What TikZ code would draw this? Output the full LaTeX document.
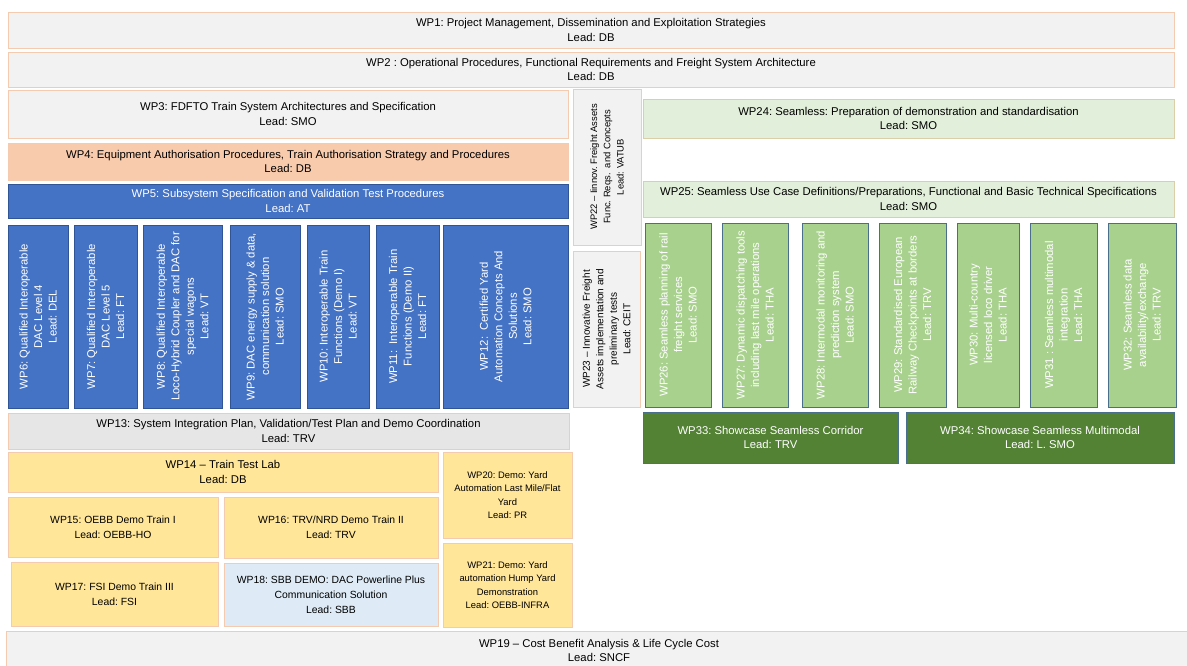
\documentclass[tikz,border=0pt]{standalone}
\usepackage{fontspec}
\setmainfont{Liberation Sans}
\definecolor{wpgrey}{HTML}{F2F2F2}
\definecolor{wpgreydark}{HTML}{E7E6E6}
\definecolor{wppeach}{HTML}{F4CBB0}
\definecolor{wporange}{HTML}{F8CBAD}
\definecolor{wpblue}{HTML}{4472C4}
\definecolor{wpblueline}{HTML}{2F5597}
\definecolor{wppalegreen}{HTML}{E2EFDA}
\definecolor{wptan}{HTML}{DCCFA8}
\definecolor{wpgreen}{HTML}{A9D18E}
\definecolor{wpdarkgreen}{HTML}{548235}
\definecolor{wpslate}{HTML}{4A6F8C}
\definecolor{wpyellow}{HTML}{FFE699}
\definecolor{wplightblue}{HTML}{DEEBF7}
\newcommand\wpfont{\fontsize{11.3}{14.5}\selectfont\frenchspacing}
\newcommand\wpsmall{\fontsize{10.4}{14.8}\selectfont\frenchspacing}
\newcommand\wpmid{\fontsize{10}{13.5}\selectfont\frenchspacing}
\newcommand\wptiny{\fontsize{9.4}{13.3}\selectfont\frenchspacing}
% box given by its corners (x1,y1) (x2,y2)
\newcommand\wpnode[7]{%
  \node[#6, minimum width={(#4)-(#2)}, minimum height={(#5)-(#3)}]
    (#1) at ({((#2)+(#4))/2},{((#3)+(#5))/2}) {#7};}
% tall box with its text turned upright
\newcommand\wpnoderot[7]{%
  \node[#6, rotate=90, minimum width={(#5)-(#3)}, minimum height={(#4)-(#2)}]
    (#1) at ({((#2)+(#4))/2},{((#3)+(#5))/2}) {#7};}
\tikzset{
  wp/.style={line width=0.8pt, inner sep=1pt, outer sep=0pt, align=center, font=\wpfont},
  greybox/.style={wp, fill=wpgrey, draw=wppeach},
  greydark/.style={wp, fill=wpgreydark, draw=wppeach},
  orangebox/.style={wp, fill=wporange, draw=wppeach},
  bluebox/.style={wp, fill=wpblue, draw=wpblueline, text=white},
  palegreen/.style={wp, fill=wppalegreen, draw=wptan},
  greenbox/.style={wp, fill=wpgreen, draw=wpslate, text=white},
  darkgreen/.style={wp, fill=wpdarkgreen, draw=wpslate, text=white},
  yellowbox/.style={wp, fill=wpyellow, draw=wppeach},
  lightblue/.style={wp, fill=wplightblue, draw=wppeach},
}
\begin{document}
\begin{tikzpicture}[x=1pt, y=-1pt]
\useasboundingbox (0,0) rectangle (1187,666);
\fill[white] (0,0) rectangle (1187,666);
\clip (0,0) rectangle (1187,666);

% full-width work packages
\wpnode{wp1}{8}{12}{1174}{48}{greybox}{WP1: Project Management, Dissemination and Exploitation Strategies\\Lead: DB}
\wpnode{wp2}{8}{52}{1174}{87}{greybox}{WP2 : Operational Procedures, Functional Requirements and Freight System Architecture\\Lead: DB}

% FDFTO block
\wpnode{wp3}{8}{90}{568}{138}{greybox}{WP3: FDFTO Train System Architectures and Specification\\Lead: SMO}
\wpnode{wp4}{8}{143}{568}{180}{orangebox}{WP4: Equipment Authorisation Procedures, Train Authorisation Strategy and Procedures\\Lead: DB}
\wpnode{wp5}{8}{184}{568}{218}{bluebox}{WP5: Subsystem Specification and Validation Test Procedures\\Lead: AT}

\wpnoderot{wp6}{8}{225}{68}{408}{bluebox}{WP6: Qualified Interoperable\\DAC Level 4\\Lead: DEL}
\wpnoderot{wp7}{74}{225}{137}{408}{bluebox}{WP7: Qualified Interoperable\\DAC Level 5\\Lead: FT}
\wpnoderot{wp8}{143}{225}{222}{408}{bluebox}{WP8: Qualified Interoperable\\Loco-Hybrid Coupler and DAC for\\special wagons\\Lead: VT}
\wpnoderot{wp9}{230}{225}{300}{408}{bluebox}{WP9: DAC energy supply \& data,\\communication solution\\Lead: SMO}
\wpnoderot{wp10}{307}{225}{369}{408}{bluebox}{WP10: Interoperable Train\\Functions (Demo I)\\Lead: VT}
\wpnoderot{wp11}{376}{225}{439}{408}{bluebox}{WP11:\ \ Interoperable Train\\Functions (Demo II)\\Lead: FT}
\wpnoderot{wp12}{443}{225}{568}{408}{bluebox}{WP12:\ \ Certified Yard\\Automation Concepts And\\Solutions\\Lead: SMO}

\wpnode{wp13}{8}{413}{569}{449}{greydark}{WP13: System Integration Plan, Validation/Test Plan and Demo Coordination\\Lead: TRV}
\wpnode{wp14}{8}{452}{438}{492}{yellowbox}{WP14 – Train Test Lab\\Lead: DB}
\wpnode{wp15}{8}{497}{218}{557}{yellowbox, font=\wpsmall}{WP15: OEBB Demo Train I\\Lead: OEBB-HO}
\wpnode{wp16}{224}{497}{438}{558}{yellowbox, font=\wpsmall}{WP16: TRV/NRD Demo Train II\\Lead: TRV}
\wpnode{wp17}{11}{562}{218}{626}{yellowbox, font=\wpsmall}{WP17: FSI Demo Train III\\Lead: FSI}
\wpnode{wp18}{224}{563}{438}{626}{lightblue, font=\wpsmall}{WP18: SBB DEMO: DAC Powerline Plus\\Communication Solution\\Lead: SBB}
\wpnode{wp20}{443}{452}{572}{538}{yellowbox, font=\wptiny}{WP20: Demo: Yard\\Automation Last Mile/Flat\\Yard\\Lead: PR}
\wpnode{wp21}{443}{543}{572}{627}{yellowbox, font=\wptiny}{WP21: Demo: Yard\\automation Hump Yard\\Demonstration\\Lead: OEBB-INFRA}

% innovative freight assets
\wpnoderot{wp22}{573}{89}{641}{245}{greybox, font=\wptiny}{WP22 – Iinnov. Freight Assets\\Func. Reqs.\ \ and Concepts\\Lead: VATUB}
\wpnoderot{wp23}{573}{251}{640}{407}{greybox, font=\wpmid}{WP23 – Innovative Freight\\Assets implementation and\\preliminary tests\\Lead: CEIT}

% Seamless block
\wpnode{wp24}{643}{99}{1174}{138}{palegreen}{WP24: Seamless: Preparation of demonstration and standardisation\\Lead: SMO}
\wpnode{wp25}{643}{181}{1174}{217}{palegreen}{WP25: Seamless Use Case Definitions/Preparations, Functional and Basic Technical Specifications\\Lead: SMO}

\wpnoderot{wp26}{645}{223}{711}{407}{greenbox}{WP26: Seamless planning of rail\\freight services\\Lead: SMO}
\wpnoderot{wp27}{722}{223}{788}{407}{greenbox}{WP27: Dynamic dispatching tools\\including last mile operations\\Lead: THA}
\wpnoderot{wp28}{802}{223}{868}{407}{greenbox}{WP28: Intermodal monitoring and\\prediction system\\Lead: SMO}
\wpnoderot{wp29}{879}{223}{946}{407}{greenbox}{WP29: Standardised European\\Railway Checkpoints at borders\\Lead: TRV}
\wpnoderot{wp30}{957}{223}{1019}{407}{greenbox}{WP30: Multi-country\\licensed loco driver\\Lead: THA}
\wpnoderot{wp31}{1030}{223}{1097}{407}{greenbox}{WP31 : Seamless multimodal\\integration\\Lead: THA}
\wpnoderot{wp32}{1108}{223}{1176}{407}{greenbox}{WP32: Seamless data\\availability/exchange\\Lead: TRV}

\wpnode{wp33}{643}{412}{898}{463}{darkgreen}{WP33: Showcase Seamless Corridor\\Lead: TRV}
\wpnode{wp34}{906}{412}{1174}{463}{darkgreen}{WP34: Showcase Seamless Multimodal\\Lead: L. SMO}

% cross-cutting cost analysis
\wpnode{wp19}{6}{631}{1192}{670}{greybox}{WP19 – Cost Benefit Analysis \& Life Cycle Cost\\Lead: SNCF}
\end{tikzpicture}
\end{document}
